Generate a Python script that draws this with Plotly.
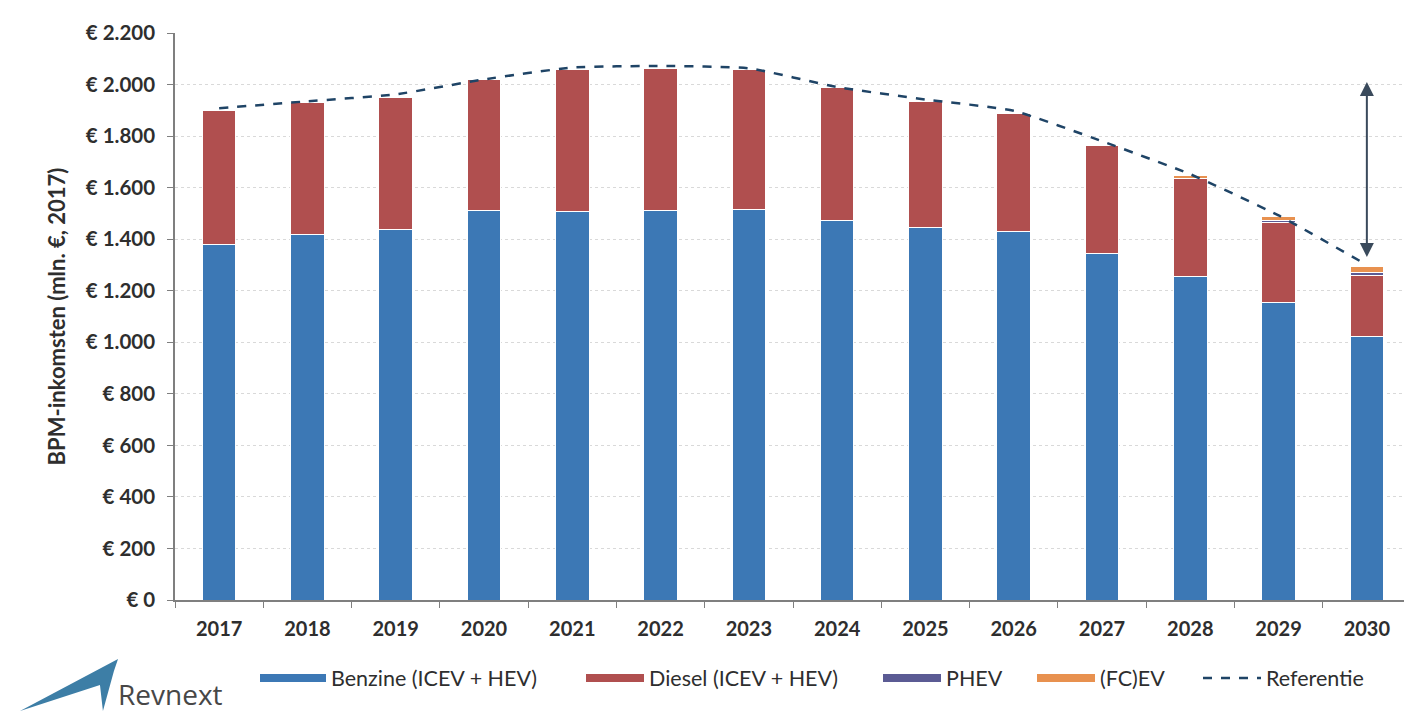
import plotly.graph_objects as go

# BPM-inkomsten per brandstoftype (mln. euro, prijspeil 2017)
years = ['2017', '2018', '2019', '2020', '2021', '2022', '2023',
         '2024', '2025', '2026', '2027', '2028', '2029', '2030']
benzine = [1381, 1419, 1438, 1511, 1508, 1511, 1516, 1471, 1446, 1428, 1343, 1257, 1155, 1022]
diesel = [520, 512, 513, 507, 551, 551, 543, 517, 488, 459, 420, 377, 311, 239]
phev = [0, 0, 0, 0, 0, 0, 0, 0, 0, 0, 1, 3, 6, 9]
fcev = [0, 0, 0, 0, 0, 0, 0, 0, 0, 0, 3, 12, 16, 25]
referentie = [1908, 1935, 1962, 2020, 2066, 2072, 2063, 1990, 1942, 1898, 1780, 1652, 1492, 1300]

y_ticks = [0, 200, 400, 600, 800, 1000, 1200, 1400, 1600, 1800, 2000, 2200]
y_labels = ['€ 0', '€ 200', '€ 400', '€ 600', '€ 800', '€ 1.000', '€ 1.200',
            '€ 1.400', '€ 1.600', '€ 1.800', '€ 2.000', '€ 2.200']

# double arrow at 2030: gap between old level and the 2030 reference
arrow_top = 2010
arrow_bottom = 1325

names = ['Benzine (ICEV + HEV)', 'Diesel (ICEV + HEV)', 'PHEV', '(FC)EV']
values = [benzine, diesel, phev, fcev]
colors = ['#3c78b5', '#b04f4f', '#5b5b94', '#e8914f']
ref_color = '#1f4466'

FONT = 'Lato'
TXT = '#2e2e2e'

# the page body adds an 8px margin, so the figure is drawn 8px smaller
W, H = 1404, 705
L, T, PW, PH = 167, 25, 1236, 567


def px(x):
    # screen x -> paper x
    return (x - 8 - L) / PW


def py(y):
    # screen y -> paper y
    return (T + PH - (y - 8)) / PH


fig = go.Figure()

for name, vals, col in zip(names, values, colors):
    fig.add_trace(go.Bar(x=years, y=vals, name=name, showlegend=False,
                         marker=dict(color=col, line=dict(color='white', width=1))))

fig.add_trace(go.Scatter(x=years, y=referentie, mode='lines', name='Referentie', showlegend=False,
                         line=dict(color=ref_color, width=2.5, dash='dash', shape='spline', smoothing=0.5)))

# legend entries: one small legend each, so they sit where the Excel legend has them
legend_x = [255, 581, 878, 1032, 1198]
legend_w = [66, 58, 58, 58, 58]
leg_layout = {}
for i, (name, col) in enumerate(zip(names + ['Referentie'], colors + [ref_color])):
    key = 'legend' if i == 0 else f'legend{i + 1}'
    if name == 'Referentie':
        line = dict(color=col, width=2.5, dash='dash')
    else:
        line = dict(color=col, width=8)
    fig.add_trace(go.Scatter(x=[years[0]], y=[None], mode='lines', name=name,
                             line=line, legend=key))
    leg_layout[key] = dict(orientation='h', x=px(legend_x[i]), y=py(678),
                           xanchor='left', yanchor='middle', itemwidth=legend_w[i],
                           font=dict(family=FONT, size=21.5, color=TXT),
                           bgcolor='rgba(0,0,0,0)')

fig.add_annotation(x=len(years) - 1, y=arrow_top, xref='x', yref='y',
                   ax=len(years) - 1, ay=arrow_bottom, axref='x', ayref='y',
                   showarrow=True, arrowside='end+start', arrowhead=2,
                   arrowsize=1.4, arrowwidth=2, arrowcolor='#3a4a5c', text='')

# Revnext logo
logo = [(20, 711), (118, 659), (114, 671), (103, 711), (100, 685)]
path = 'M ' + ' L '.join(f'{px(a):.4f},{py(b):.4f}' for a, b in logo) + ' Z'
fig.add_shape(type='path', xref='paper', yref='paper', path=path,
              fillcolor='#3d7ea6', line=dict(width=0))
fig.add_annotation(x=px(116), y=py(694), xref='paper', yref='paper', text='Revnext',
                   showarrow=False, xanchor='left', yanchor='middle',
                   font=dict(family='Open Sans', size=28, color='#474747'))

fig.update_layout(
    width=W, height=H,
    barmode='stack', bargap=0.62,
    paper_bgcolor='white', plot_bgcolor='white',
    margin=dict(l=L, r=W - L - PW, t=T, b=H - T - PH),
    font=dict(family=FONT, size=20, color=TXT),
    xaxis=dict(type='category', range=[-0.5, len(years) - 0.5], autorange=False,
               showgrid=False, showline=True, linecolor='#7f7f7f', linewidth=1.5,
               ticks='outside', tickson='boundaries', ticklen=6, tickcolor='#7f7f7f',
               tickangle=0, ticklabelstandoff=10,
               tickfont=dict(family=FONT, size=20, color=TXT, weight='bold')),
    yaxis=dict(range=[0, 2200], autorange=False, tickvals=y_ticks, ticktext=y_labels,
               showline=True, linecolor='#7f7f7f', linewidth=1.5,
               ticks='outside', ticklen=6, tickcolor='#7f7f7f', ticklabelstandoff=8,
               gridcolor='#d9d9d9', griddash='dot', gridwidth=1, zeroline=False,
               tickfont=dict(family=FONT, size=20.5, color=TXT, weight='bold'),
               title=dict(text='<b>BPM-inkomsten (mln. €, 2017)</b>', standoff=14,
                          font=dict(family=FONT, size=22, color=TXT))),
    **leg_layout,
)

fig.write_html('out.html')
